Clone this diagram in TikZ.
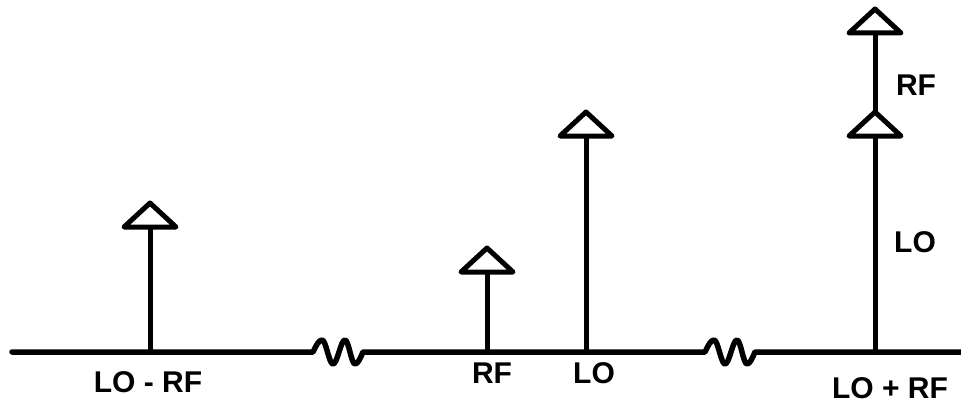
\documentclass[tikz,border=0pt]{standalone}
\usepackage{fontspec}
\setmainfont{Liberation Sans}
\begin{document}
\begin{tikzpicture}[x=1pt,y=-1pt,
  axis/.style={line width=5.5pt,line cap=round,line join=round},
  stem/.style={line width=5pt},
  tri/.style={line width=5pt,line join=round,fill=white},
  lbl/.style={inner sep=0pt,font=\fontsize{30}{34}\selectfont\bfseries},
  peak/.pic={\draw[tri] (-26,0) -- (0,-24) -- (26,0) -- cycle;}]
\useasboundingbox (0,0) rectangle (961,404);

% points on the frequency axis
\coordinate (a0) at (12,352);
\coordinate (w1a) at (313,352);
\coordinate (w2a) at (705,352);
\coordinate (a1) at (963,352);

% axis with two breaks
\draw[axis] (a0) -- (w1a)
  sin ++(9,-12) cos ++(5.5,12) sin ++(5.5,12) cos ++(6,-12)
  sin ++(6,-12) cos ++(5,12) sin ++(5,12) cos ++(8,-12) -- (w2a)
  sin ++(9,-12) cos ++(5.5,12) sin ++(5.5,12) cos ++(6,-12)
  sin ++(6,-12) cos ++(5,12) sin ++(5,12) cos ++(8,-12) -- (a1);

% spectral lines: foot on the axis, head at the triangle base
\coordinate (f1) at (150,352);  \coordinate (h1) at (150,227);
\coordinate (f2) at (487,352);  \coordinate (h2) at (487,272);
\coordinate (f3) at (586,352);  \coordinate (h3) at (586,136);
\coordinate (f4) at (875,352);  \coordinate (h4) at (875,136);
\coordinate (h5) at (875,33);

\draw[stem] (f1) -- (h1);
\draw[stem] (f2) -- (h2);
\draw[stem] (f3) -- (h3);
\draw[stem] (f4) -- (h5);

\pic at (h1) {peak};
\pic at (h2) {peak};
\pic at (h3) {peak};
\pic at (h4) {peak};
\pic at (h5) {peak};

% labels
\node[lbl] (ldiff) at (148,382) {LO - RF};
\node[lbl] (lrf)   at (492,373) {RF};
\node[lbl] (llo)   at (594,373) {LO};
\node[lbl] (lsum)  at (890,388) {LO + RF};
\node[lbl] (lrf2)  at (916,85)  {RF};
\node[lbl] (llo2)  at (915,242) {LO};
\end{tikzpicture}
\end{document}
